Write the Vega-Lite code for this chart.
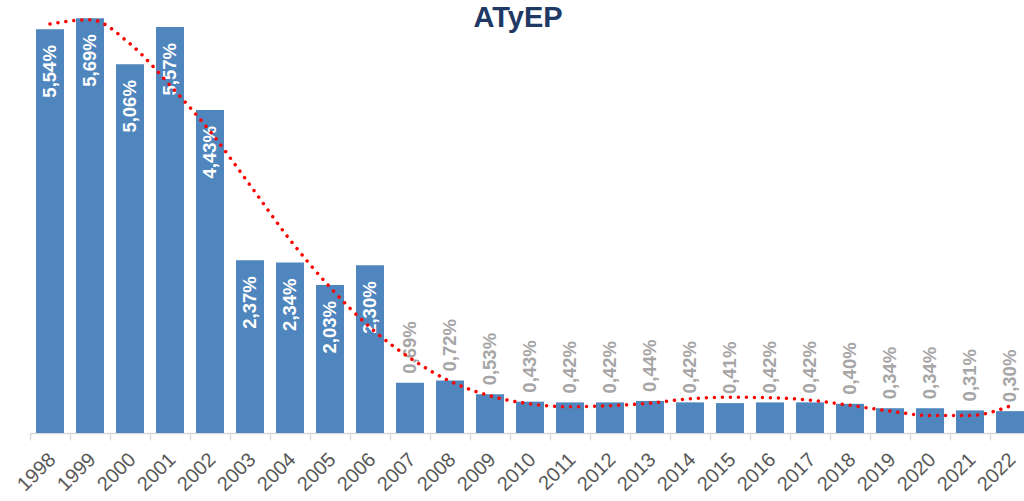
{
  "$schema": "https://vega.github.io/schema/vega-lite/v6.json",
  "autosize": {"type": "none"},
  "width": 994,
  "height": 433,
  "padding": {"left": 30, "top": 0, "right": 0, "bottom": 68},
  "background": "white",
  "config": {"view": {"stroke": null}, "font": "Liberation Sans"},
  "title": {
    "text": "ATyEP",
    "font": "Liberation Sans",
    "fontSize": 29,
    "fontWeight": "bold",
    "color": "#203864",
    "anchor": "middle",
    "frame": "group",
    "baseline": "alphabetic",
    "offset": -56,
    "dx": -9
  },
  "data": {
    "values": [
      {"year": "1998", "value": 5.54, "trend": 5.61},
      {"year": "1999", "value": 5.69, "trend": 5.67},
      {"year": "2000", "value": 5.06, "trend": 5.34},
      {"year": "2001", "value": 5.57, "trend": 4.77},
      {"year": "2002", "value": 4.43, "trend": 4.14},
      {"year": "2003", "value": 2.37, "trend": 3.4},
      {"year": "2004", "value": 2.34, "trend": 2.65},
      {"year": "2005", "value": 2.03, "trend": 2.0},
      {"year": "2006", "value": 2.30, "trend": 1.45},
      {"year": "2007", "value": 0.69, "trend": 1.03},
      {"year": "2008", "value": 0.72, "trend": 0.71},
      {"year": "2009", "value": 0.53, "trend": 0.51},
      {"year": "2010", "value": 0.43, "trend": 0.4},
      {"year": "2011", "value": 0.42, "trend": 0.36},
      {"year": "2012", "value": 0.42, "trend": 0.375},
      {"year": "2013", "value": 0.44, "trend": 0.41},
      {"year": "2014", "value": 0.42, "trend": 0.47},
      {"year": "2015", "value": 0.41, "trend": 0.49},
      {"year": "2016", "value": 0.42, "trend": 0.485},
      {"year": "2017", "value": 0.42, "trend": 0.45},
      {"year": "2018", "value": 0.40, "trend": 0.38},
      {"year": "2019", "value": 0.34, "trend": 0.3},
      {"year": "2020", "value": 0.34, "trend": 0.24},
      {"year": "2021", "value": 0.31, "trend": 0.24},
      {"year": "2022", "value": 0.30, "trend": 0.37}
    ]
  },
  "transform": [
    {"calculate": "replace(format(datum.value, '.2f'), '.', ',') + '%'", "as": "label"}
  ],
  "encoding": {
    "x": {
      "field": "year",
      "type": "nominal",
      "sort": null,
      "scale": {"range": [0, 1000], "paddingInner": 0, "paddingOuter": 0},
      "axis": {
        "title": null,
        "tickBand": "extent",
        "domainColor": "#D9D9D9",
        "domainWidth": 1.5,
        "tickColor": "#D9D9D9",
        "tickWidth": 1.5,
        "tickSize": 7,
        "labelAngle": -45,
        "labelAlign": "right",
        "labelBaseline": "top",
        "labelPadding": 9,
        "labelOffset": -5,
        "labelFontSize": 20,
        "labelColor": "#595959",
        "labelFont": "Liberation Sans"
      }
    }
  },
  "layer": [
    {
      "mark": {"type": "bar", "width": {"band": 0.7}, "color": "#4F86BD"},
      "encoding": {
        "y": {"field": "value", "type": "quantitative", "scale": {"domain": [0, 5.94], "nice": false, "zero": true}, "axis": null}
      }
    },
    {
      "transform": [{"filter": "datum.value > 1"}],
      "mark": {"type": "text", "angle": 270, "align": "right", "baseline": "middle", "dx": -16, "fontSize": 18.5, "fontWeight": "bold", "color": "white", "font": "Liberation Sans"},
      "encoding": {
        "y": {"field": "value", "type": "quantitative"},
        "text": {"field": "label"}
      }
    },
    {
      "transform": [{"filter": "datum.value < 1"}],
      "mark": {"type": "text", "angle": 270, "align": "left", "baseline": "middle", "dx": 9, "fontSize": 18.5, "fontWeight": "bold", "color": "#A6A6A6", "font": "Liberation Sans"},
      "encoding": {
        "y": {"field": "value", "type": "quantitative"},
        "text": {"field": "label"}
      }
    },
    {
      "mark": {"type": "line", "color": "#FF0000", "strokeWidth": 3.5, "strokeCap": "round", "strokeDash": [0.01, 8], "interpolate": "monotone"},
      "encoding": {
        "y": {"field": "trend", "type": "quantitative"}
      }
    }
  ]
}
